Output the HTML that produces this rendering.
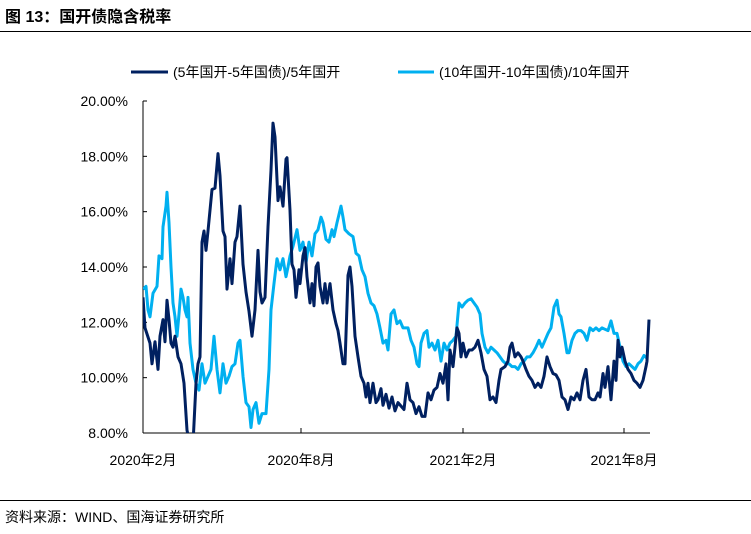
<!DOCTYPE html>
<html><head><meta charset="utf-8"><style>
body{margin:0;background:#fff;width:751px;height:529px;overflow:hidden;font-family:"Liberation Sans","Noto Sans CJK SC",sans-serif}
</style></head><body>
<svg width="751" height="529" viewBox="0 0 751 529" xmlns="http://www.w3.org/2000/svg">
<text x="5" y="22" font-size="16" font-weight="bold" fill="#000" font-family="Liberation Sans, Noto Sans CJK SC, sans-serif">图 13：国开债隐含税率</text>
<line x1="0" y1="31.5" x2="751" y2="31.5" stroke="#000" stroke-width="1"/>
<g id="legend">
<line x1="131" y1="72" x2="168" y2="72" stroke="#002060" stroke-width="3"/>
<text x="173" y="77" font-size="14" fill="#000">(5年国开-5年国债)/5年国开</text>
<line x1="398" y1="72" x2="434" y2="72" stroke="#00b0f0" stroke-width="3"/>
<text x="439" y="77" font-size="14" fill="#000">(10年国开-10年国债)/10年国开</text>
</g>
<defs><clipPath id="pc"><rect x="143" y="100" width="510" height="333"/></clipPath></defs>
<g id="axes"></g>
<g id="series" clip-path="url(#pc)"></g>
<line x1="0" y1="500.5" x2="751" y2="500.5" stroke="#000" stroke-width="1"/>
<text x="5" y="522" font-size="14" fill="#000">资料来源：WIND、国海证券研究所</text>
</svg>
<script>
const yTicks=[8,10,12,14,16,18,20];
const yTickLabels=["8.00%","10.00%","12.00%","14.00%","16.00%","18.00%","20.00%"];
const xTickObs=[0,158,320,481];
const xTickLabels=["2020年2月","2020年8月","2021年2月","2021年8月"];
const darkObs=[0,2,7,9,12,15,17,20,22,24,26,28,30,32,35,38,41,44,47,50,53,55,57,59,61,63,65,69,72,75,77,80,82,84,87,89,92,94,97,100,103,106,109,112,115,117,119,122,125,128,130,132,135,137,140,143,144,147,149,151,153,156,157,160,162,164,167,169,171,173,175,177,180,182,184,187,190,193,195,197,200,202,205,207,209,212,215,218,221,223,225,227,230,233,235,238,240,243,246,249,252,255,261,264,267,270,273,276,279,282,285,288,291,294,297,300,303,305,307,310,312,314,316,318,320,323,326,329,332,335,338,341,344,347,350,353,356,358,362,365,367,369,372,375,378,380,383,386,389,392,395,398,401,404,407,410,413,416,419,422,425,428,431,434,437,440,443,446,449,452,455,457,460,462,465,468,471,473,475,477,479,482,485,488,491,494,497,500,503,504,506];
const darkVals=[12.9,11.8,11.25,10.5,11.3,10.3,11.5,12.1,11.3,12.8,12.1,11.25,11.1,11.5,10.75,10.5,9.8,8.1,7.6,7.6,9.8,10.5,10.75,14.9,15.3,14.6,15.3,16.8,16.85,18.1,17.3,15.3,15.1,13.2,14.3,13.4,14.9,15.1,16.2,14.1,13.1,12.4,11.5,12.45,14.6,13.1,12.7,12.9,15.45,17.5,19.2,18.7,16.4,16.9,16.2,17.9,17.95,16.05,14.1,13.9,12.9,13.9,13.4,14.4,14.7,13.65,12.7,13.4,12.6,14.0,14.15,13.3,12.7,13.4,12.7,13.4,12.45,11.95,11.7,11.25,10.5,10.5,13.7,14.0,13.3,11.5,10.75,10.05,9.8,9.3,9.8,9.1,9.8,9.1,9.2,9.6,9.0,9.4,8.9,9.3,8.8,9.1,8.85,9.8,9.2,9.1,8.7,8.95,8.6,8.6,9.45,9.2,9.55,9.65,10.15,9.8,10.5,9.2,11.0,10.4,11.1,11.8,11.6,10.75,11.25,10.75,11.0,11.0,11.1,11.35,10.9,10.3,10.05,9.2,9.3,9.1,9.9,10.3,10.4,10.6,11.1,11.25,10.75,10.9,10.75,10.6,10.3,10.05,9.9,9.65,9.8,9.65,10.05,10.75,10.4,10.15,10.1,9.9,9.3,9.2,8.85,9.3,9.2,9.45,9.2,9.9,10.3,9.3,9.2,9.2,9.45,9.3,10.15,9.65,10.4,9.2,10.6,9.9,11.35,10.75,11.1,10.6,10.3,10.15,9.9,9.8,9.65,9.9,10.4,10.6,12.1,11.5];
const lightObs=[0,3,5,7,10,14,16,19,20,23,24,26,28,30,32,34,36,38,40,42,44,45,47,50,53,56,59,62,65,68,71,74,77,80,83,86,89,92,95,97,100,103,106,108,110,113,116,119,123,126,128,131,134,137,140,143,145,147,150,154,157,160,163,166,169,172,175,178,180,183,186,189,191,194,198,200,202,206,210,213,216,219,222,225,228,231,234,237,240,243,245,248,251,254,257,260,263,265,268,271,274,276,278,281,284,286,289,292,295,298,301,304,307,310,313,316,319,322,325,328,331,334,337,339,342,345,348,351,354,357,360,363,366,369,372,375,378,381,384,387,390,393,396,399,402,405,408,411,414,416,418,421,424,426,429,432,435,438,441,444,447,450,453,456,459,462,465,468,471,474,477,480,483,486,489,492,495,498,501,504,506];
const lightVals=[13.2,13.3,12.45,12.2,13.05,13.3,14.4,14.3,15.45,16.2,16.7,15.6,14.0,12.7,12.2,11.5,12.3,13.2,12.9,12.45,12.2,12.9,11.25,10.3,9.8,9.55,10.5,9.8,10.05,10.3,11.5,10.3,9.45,10.5,9.8,10.05,10.4,10.5,11.25,11.35,10.05,9.1,8.95,8.2,8.85,9.1,8.35,8.7,8.7,10.3,12.45,13.4,14.3,13.9,14.3,13.65,14.0,14.4,14.75,15.35,14.6,14.9,14.15,14.9,14.4,15.2,15.35,15.8,15.6,15.0,14.9,15.35,15.1,15.6,16.2,15.8,15.35,15.2,15.1,14.5,14.4,13.9,13.65,13.05,12.7,12.6,12.3,11.8,11.25,11.35,11.0,12.3,12.45,11.95,12.05,11.8,11.8,11.8,11.35,11.1,10.5,10.4,11.25,11.6,11.7,11.1,11.25,11.0,11.35,10.6,11.25,11.0,11.25,11.35,11.5,12.7,12.55,12.7,12.8,12.85,12.7,12.55,12.3,11.6,11.1,10.9,11.1,11.0,10.9,10.75,10.6,10.5,10.5,10.4,10.4,10.3,10.5,10.6,10.75,10.75,10.9,11.1,11.35,11.1,11.35,11.6,11.8,12.55,12.8,12.3,12.2,11.6,10.9,10.9,11.35,11.6,11.7,11.7,11.6,11.35,11.8,11.7,11.8,11.7,11.8,11.75,11.7,12.05,11.6,11.6,11.1,10.6,10.4,10.5,10.4,10.3,10.5,10.6,10.8,10.7];

const NS="http://www.w3.org/2000/svg";
const X0=143,X1=650,OBSMAX=507,Y0=433,Y1=101,VMIN=8,VMAX=20;
function xs(o){return X0+(X1-X0)*o/OBSMAX;}
function ys(v){return Y0-(Y0-Y1)*(v-VMIN)/(VMAX-VMIN);}
const axes=document.getElementById('axes');
const yAxis=document.createElementNS(NS,'line');
yAxis.setAttribute('x1',X0);yAxis.setAttribute('x2',X0);yAxis.setAttribute('y1',Y1);yAxis.setAttribute('y2',Y0);yAxis.setAttribute('stroke','#000');


axes.appendChild(yAxis);
const xAxis=document.createElementNS(NS,'line');
xAxis.setAttribute('x1',X0);xAxis.setAttribute('x2',X1);xAxis.setAttribute('y1',Y0);xAxis.setAttribute('y2',Y0);xAxis.setAttribute('stroke','#000');


axes.appendChild(xAxis);
yTicks.forEach((v,i)=>{
 const y=ys(v);
 const t=document.createElementNS(NS,'line');
 t.setAttribute('x1',X0);t.setAttribute('x2',X0+4);t.setAttribute('y1',y);t.setAttribute('y2',y);t.setAttribute('stroke','#000');
 
 
 axes.appendChild(t);
 const l=document.createElementNS(NS,'text');
 l.setAttribute('x',128);l.setAttribute('y',y+5);l.setAttribute('text-anchor','end');l.setAttribute('font-size','14');
 l.textContent=yTickLabels[i];
 
 
 axes.appendChild(l);
});
xTickObs.forEach((o,i)=>{
 const x=xs(o);
 const t=document.createElementNS(NS,'line');
 t.setAttribute('x1',x);t.setAttribute('x2',x);t.setAttribute('y1',Y0);t.setAttribute('y2',Y0-5);t.setAttribute('stroke','#000');
 
 
 axes.appendChild(t);
 const l=document.createElementNS(NS,'text');
 l.setAttribute('x',x);l.setAttribute('y',465);l.setAttribute('text-anchor','middle');l.setAttribute('font-size','14');
 l.textContent=xTickLabels[i];
 
 
 axes.appendChild(l);
});
const series=document.getElementById('series');
function draw(obs,vals,color,name){
 const p=document.createElementNS(NS,'path');
 p.setAttribute('d',obs.map((o,i)=>(i?'L':'M')+xs(o).toFixed(1)+','+ys(vals[i]).toFixed(1)).join(''));
 p.setAttribute('fill','none');p.setAttribute('stroke',color);p.setAttribute('stroke-width','3');p.setAttribute('stroke-linejoin','round');
 
 
 series.appendChild(p);
}
draw(lightObs,lightVals,'#00b0f0','line-10y');
draw(darkObs,darkVals,'#002060','line-5y');
</script>
</body></html>
